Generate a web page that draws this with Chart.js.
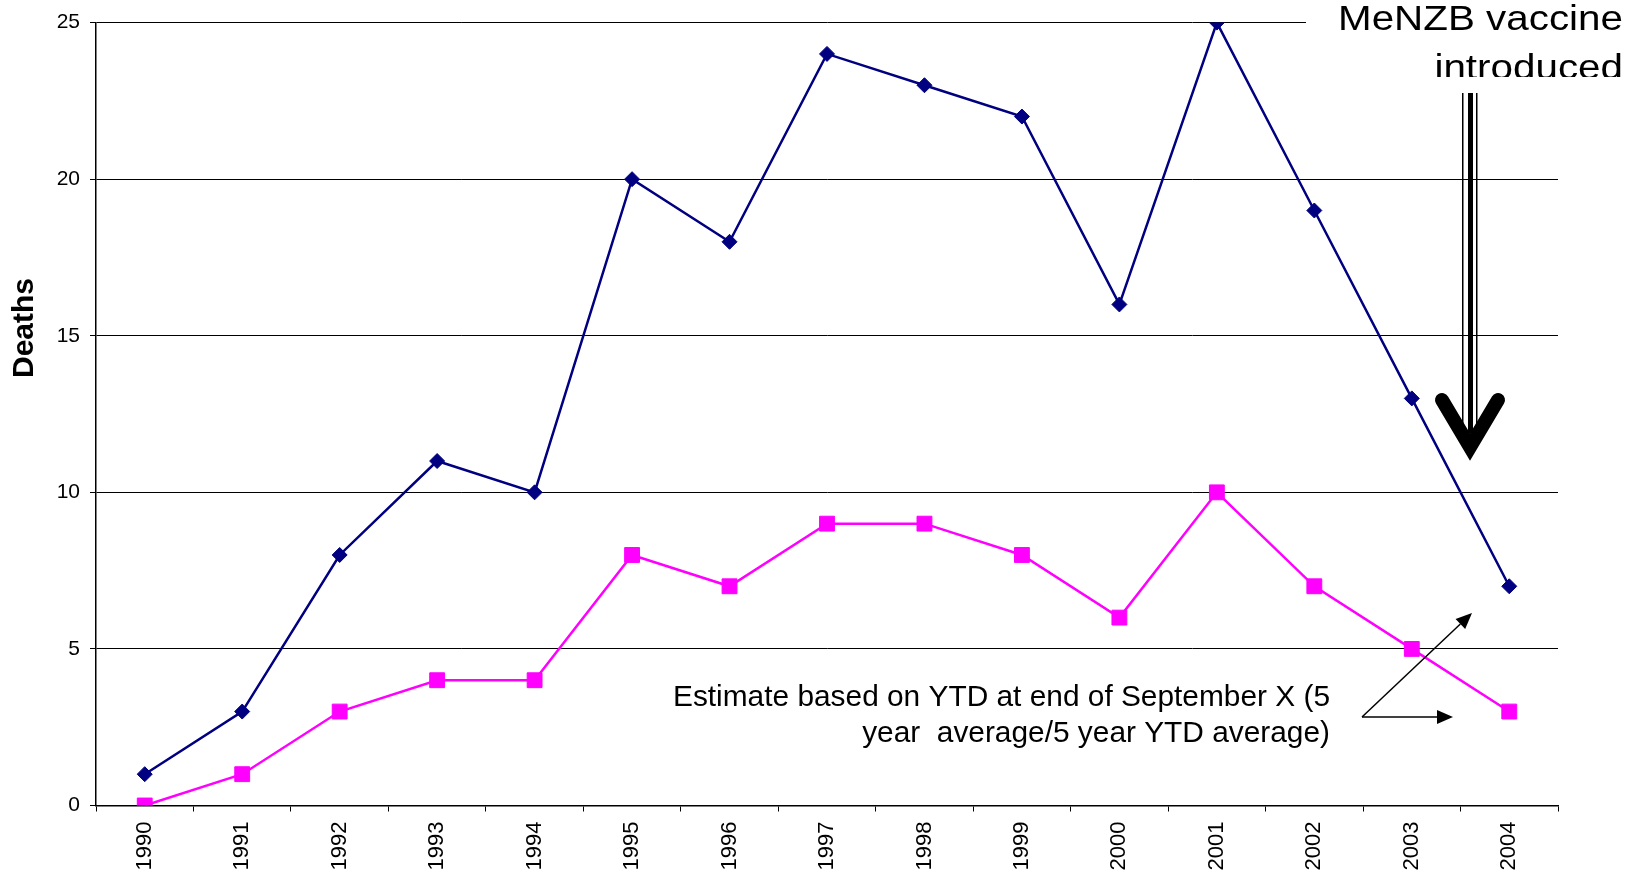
<!DOCTYPE html>
<html>
<head>
<meta charset="utf-8">
<script src="https://cdn.jsdelivr.net/npm/chart.js@4/dist/chart.umd.min.js"></script>
<style>
  body { margin: 0; background: #fff; }
  #wrap { width: 1647px; height: 874px; }
</style>
</head>
<body>
<div id="wrap"><canvas id="chart" width="1647" height="874"></canvas></div>
<script>
const years = ['1990', '1991', '1992', '1993', '1994', '1995', '1996', '1997', '1998', '1999', '2000', '2001', '2002', '2003', '2004'];
const totalDeaths = [1, 3, 8, 11, 10, 20, 18, 24, 23, 22, 16, 25, 19, 13, 7];
const groupBDeaths = [0, 1, 3, 4, 4, 8, 7, 9, 9, 8, 6, 10, 7, 5, 3];
const yTicks = [0, 5, 10, 15, 20, 25];

const FONT = '"Liberation Sans", Arial, sans-serif';

// draw text right aligned, squeezed/stretched to a given width
function fitText(ctx, text, right, baseline, sx) {
    const w = ctx.measureText(text).width * sx;
    ctx.save();
    ctx.translate(right - w, baseline);
    ctx.scale(sx, 1);
    ctx.fillText(text, 0, 0);
    ctx.restore();
}

function arrow(ctx, x1, y1, x2, y2) {
    const a = Math.atan2(y2 - y1, x2 - x1);
    const len = 16, half = 7;
    ctx.beginPath();
    ctx.moveTo(x1, y1);
    ctx.lineTo(x2 - Math.cos(a) * len, y2 - Math.sin(a) * len);
    ctx.stroke();
    ctx.beginPath();
    ctx.moveTo(x2, y2);
    ctx.lineTo(x2 - Math.cos(a) * len - Math.sin(a) * half, y2 - Math.sin(a) * len + Math.cos(a) * half);
    ctx.lineTo(x2 - Math.cos(a) * len + Math.sin(a) * half, y2 - Math.sin(a) * len - Math.cos(a) * half);
    ctx.closePath();
    ctx.fill();
}

const notes = {
    id: 'notes',
    afterDraw(chart) {
        const ctx = chart.ctx;
        ctx.save();
        ctx.fillStyle = '#000';
        ctx.strokeStyle = '#000';

        // axis title
        ctx.save();
        ctx.font = 'bold 30px ' + FONT;
        ctx.translate(33, 328);
        ctx.rotate(-Math.PI / 2);
        ctx.textAlign = 'center';
        ctx.fillText('Deaths', 0, 0);
        ctx.restore();

        // vaccine label box
        ctx.fillStyle = '#fff';
        ctx.fillRect(1306, 0, 341, 77);
        ctx.save();
        ctx.beginPath();
        ctx.rect(1306, 0, 341, 77);
        ctx.clip();
        ctx.fillStyle = '#000';
        ctx.font = '35px ' + FONT;
        const s1 = 285 / ctx.measureText('MeNZB vaccine').width;
        fitText(ctx, 'MeNZB vaccine', 1623, 30, s1);
        fitText(ctx, 'introduced', 1623, 79, s1);
        ctx.restore();

        // big down arrow
        ctx.fillStyle = '#000';
        ctx.fillRect(1462, 93, 1.5, 340);
        ctx.fillRect(1468, 93, 5, 340);
        ctx.fillRect(1476, 93, 1.5, 340);
        ctx.lineWidth = 14;
        ctx.lineCap = 'round';
        ctx.lineJoin = 'miter';
        ctx.beginPath();
        ctx.moveTo(1442, 400);
        ctx.lineTo(1470, 447);
        ctx.lineTo(1498, 400);
        ctx.stroke();

        // estimate note
        ctx.font = '30px ' + FONT;
        const s2 = 657 / ctx.measureText('Estimate based on YTD at end of September X (5').width;
        fitText(ctx, 'Estimate based on YTD at end of September X (5', 1330, 706, s2);
        fitText(ctx, 'year  average/5 year YTD average)', 1330, 742, s2);

        ctx.lineWidth = 1.5;
        ctx.lineCap = 'butt';
        arrow(ctx, 1362, 717, 1472, 613);
        arrow(ctx, 1362, 717, 1453, 717);
        ctx.restore();
    }
};

new Chart(document.getElementById('chart'), {
    type: 'line',
    data: {
        labels: years,
        datasets: [{
            label: 'Deaths',
            data: totalDeaths,
            borderColor: '#000080',
            backgroundColor: '#000080',
            borderWidth: 2.5,
            pointStyle: 'rectRot',
            pointRadius: 7.5,
            pointBorderWidth: 1,
            tension: 0
        }, {
            label: 'Group B deaths',
            data: groupBDeaths,
            borderColor: '#ff00ff',
            backgroundColor: '#ff00ff',
            borderWidth: 2.5,
            pointStyle: 'rect',
            pointRadius: 10.5,
            pointBorderWidth: 1,
            tension: 0
        }]
    },
    options: {
        responsive: false,
        animation: false,
        layout: { padding: { top: 22, right: 89, left: 0, bottom: 0 } },
        plugins: {
            legend: { display: false },
            tooltip: { enabled: false }
        },
        scales: {
            x: {
                offset: true,
                grid: { offset: true, drawOnChartArea: false, drawTicks: true, tickLength: 6, color: '#000' },
                border: { color: '#000', width: 1.5 },
                ticks: {
                    minRotation: 90, maxRotation: 90, autoSkip: false,
                    padding: 10, color: '#000',
                    font: { family: FONT, size: 22 }
                },
                afterFit(scale) { scale.height = 68.5; }
            },
            y: {
                min: 0, max: 25,
                afterBuildTicks(scale) { scale.ticks = yTicks.map(v => ({ value: v })); },
                grid: { color: '#000', lineWidth: 1, tickLength: 6 },
                border: { color: '#000', width: 1.5 },
                ticks: {
                    padding: 10, color: '#000',
                    font: { family: FONT, size: 21 }
                },
                afterFit(scale) { scale.width = 96; }
            }
        }
    },
    plugins: [notes]
});
</script>
</body>
</html>
